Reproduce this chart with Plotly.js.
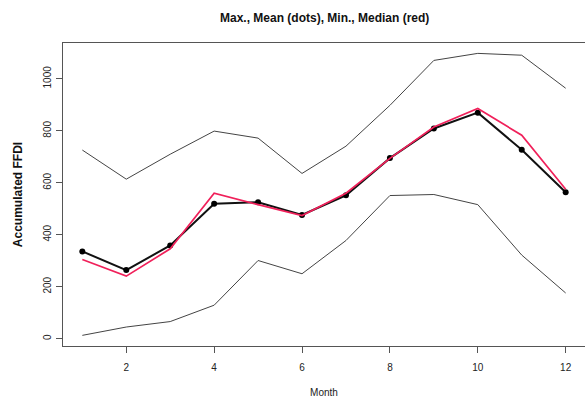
<!DOCTYPE html>
<html>
<head>
<meta charset="utf-8">
<script src="https://cdn.plot.ly/plotly-3.0.1.min.js"></script>
<style>html,body{margin:0;padding:0;background:#fff;overflow:hidden;}</style>
</head>
<body>
<div id="chart" style="width:585px;height:401px;"></div>
<script>
var months = [1,2,3,4,5,6,7,8,9,10,11,12];
var maxVals = [726,614,710,799,772,636,741,898,1071,1098,1091,964];
var meanVals = [336,264,359,519,525,476,552,695,809,870,727,564];
var minVals = [13,45,66,129,301,250,378,551,555,516,322,176];
var medianVals = [305,241,346,560,516,474,560,694,815,886,783,575];
var xTicks = [2,4,6,8,10,12];
var yTicks = [0,200,400,600,800,1000];

var traces = [
  {x: months, y: maxVals, mode: 'lines', line: {color: '#444444', width: 1}, hoverinfo: 'skip'},
  {x: months, y: minVals, mode: 'lines', line: {color: '#444444', width: 1}, hoverinfo: 'skip'},
  {x: months, y: meanVals, mode: 'lines+markers', line: {color: '#111111', width: 2},
   marker: {color: '#000000', size: 6}, hoverinfo: 'skip'},
  {x: months, y: medianVals, mode: 'lines', line: {color: '#f0205a', width: 1.7}, hoverinfo: 'skip'}
];

var layout = {
  width: 585, height: 401,
  margin: {l: 63, r: 0, t: 43, b: 55},
  paper_bgcolor: '#ffffff', plot_bgcolor: '#ffffff',
  showlegend: false,
  font: {family: 'Liberation Sans, Arial, sans-serif', color: '#222222', size: 10},
  title: {text: '<b>Max., Mean (dots), Min., Median (red)</b>', font: {size: 12, color: '#111111'},
          x: 0.555, xanchor: 'center', y: 0.955, yanchor: 'middle'},
  xaxis: {
    range: [0.56, 12.44], tickvals: xTicks, ticktext: xTicks.map(String),
    showgrid: false, zeroline: false, showline: true, mirror: true, linecolor: '#555555', linewidth: 1,
    ticks: 'outside', ticklen: 6, tickcolor: '#555555', ticklabelstandoff: 6,
    tickfont: {size: 10, color: '#222222'},
    title: {text: 'Month', font: {size: 10, color: '#222222'}, standoff: 16}
  },
  yaxis: {
    range: [-28, 1138], tickvals: yTicks, ticktext: yTicks.map(String), tickangle: -90,
    showgrid: false, zeroline: false, showline: true, linecolor: '#555555', linewidth: 1,
    ticks: 'outside', ticklen: 6, tickcolor: '#555555', ticklabelstandoff: 1,
    tickfont: {size: 10, color: '#222222'},
    title: {text: '<b>Accumulated FFDI</b>', font: {size: 12, color: '#111111'}, standoff: 16}
  }
};

Plotly.newPlot('chart', traces, layout, {displayModeBar: false, staticPlot: true});
</script>
</body>
</html>
